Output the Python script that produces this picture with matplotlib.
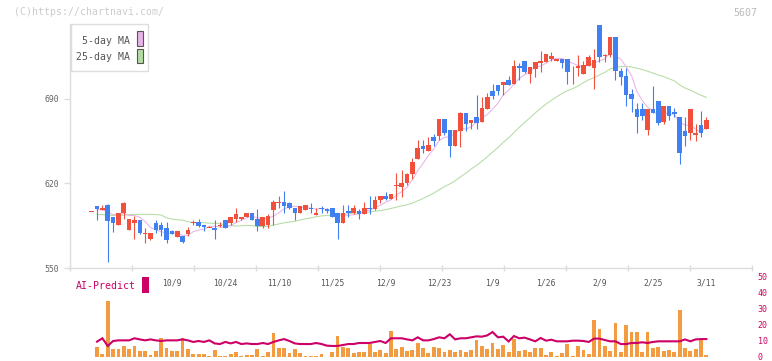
import matplotlib
matplotlib.use("Agg")
import matplotlib.pyplot as plt
import numpy as np
import pandas as pd
from matplotlib.patches import Rectangle

# ---------------- data ----------------
date_labels = ["10/9", "10/24", "11/10", "11/25", "12/9", "12/23",
               "1/9", "1/26", "2/9", "2/25", "3/11"]
date_label_idx = [15, 25, 35, 45, 55, 65, 75, 85, 95, 105, 115]

opens = [597, 601, 598, 602, 592, 586, 596, 582, 587, 590,
         579, 574, 587, 586, 583, 581, 576, 577, 578, 587,
         588, 586, 584, 583, 585, 590, 587, 591, 591, 592,
         596, 591, 585, 586, 598, 604, 605, 604, 600, 596,
         598, 600, 594, 600, 599, 600, 596, 587, 597, 596,
         597, 595, 600, 599, 606, 610, 607, 618, 617, 620,
         628, 640, 651, 647, 658, 659, 673, 664, 651, 663,
         678, 670, 675, 671, 681, 696, 701, 701, 705, 702,
         717, 721, 710, 714, 719, 720, 723, 721, 723, 723,
         716, 715, 710, 717, 715, 751, 725, 726, 741, 713,
         709, 694, 681, 681, 664, 681, 688, 671, 684, 679,
         675, 663, 662, 660, 668, 665]
highs = [597, 601, 602, 603, 592, 596, 605, 591, 593, 590,
         583, 579, 590, 588, 588, 582, 581, 577, 584, 590,
         591, 586, 585, 590, 588, 590, 592, 600, 592, 596,
         596, 599, 592, 595, 606, 610, 614, 605, 600, 601,
         602, 604, 600, 601, 600, 600, 596, 602, 602, 602,
         599, 605, 610, 610, 610, 613, 611, 629, 631, 629,
         641, 656, 656, 658, 661, 673, 673, 664, 664, 679,
         678, 672, 693, 691, 695, 702, 701, 704, 709, 722,
         719, 721, 716, 720, 729, 727, 728, 723, 723, 723,
         717, 726, 721, 726, 731, 751, 727, 741, 741, 715,
         715, 698, 686, 686, 681, 700, 688, 684, 684, 682,
         675, 675, 681, 669, 680, 675]
lows = [597, 590, 598, 555, 580, 586, 591, 582, 574, 578,
        571, 573, 579, 577, 571, 578, 576, 571, 577, 586,
        584, 581, 584, 574, 584, 583, 586, 588, 590, 592,
        590, 581, 583, 583, 586, 600, 596, 599, 590, 596,
        598, 596, 594, 596, 596, 592, 574, 587, 592, 595,
        591, 595, 595, 598, 604, 606, 607, 606, 609, 619,
        624, 640, 645, 647, 651, 656, 660, 642, 651, 650,
        663, 665, 665, 671, 681, 690, 693, 693, 701, 702,
        705, 711, 703, 708, 712, 720, 721, 721, 715, 702,
        702, 709, 710, 717, 698, 720, 720, 724, 705, 701,
        684, 679, 662, 672, 660, 678, 668, 669, 672, 675,
        636, 651, 656, 655, 658, 665]
closes = [597, 599, 600, 589, 587, 596, 604, 591, 590, 579,
          579, 579, 582, 582, 573, 578, 581, 572, 582, 588,
          585, 584, 584, 582, 586, 583, 592, 595, 592, 596,
          590, 585, 592, 593, 605, 604, 601, 600, 596, 601,
          602, 599, 596, 599, 597, 592, 587, 596, 596, 600,
          595, 600, 599, 606, 610, 607, 611, 618, 620, 628,
          638, 649, 648, 652, 655, 673, 662, 651, 664, 678,
          669, 672, 670, 682, 691, 692, 696, 704, 701, 717,
          715, 712, 716, 720, 721, 727, 725, 723, 719, 712,
          716, 717, 718, 724, 722, 724, 726, 741, 713, 708,
          693, 690, 675, 676, 681, 678, 670, 684, 676, 677,
          645, 659, 681, 662, 662, 672]

# 25-day MA values for the first candles
# (the chart's average already includes history before the first candle)
ma25_early = [np.nan, 594.5, 594.3, 593.6, 593.6, 593.6, 593.9, 594.3,
              594.5, 594.5, 594.5, 594.5, 594.3, 593.9, 591.7, 590.6,
              590.0, 589.8, 588.4, 587.6, 587.6, 587.6, 587.3, 587.1,
              587.1]

bar_values = [0, 6, 2, 35, 5, 5, 7, 5, 7, 4,
              4, 1, 4, 12, 5.5, 4, 4, 12, 5, 2,
              2, 2, 0.6, 4.4, 0.6, 0.6, 2, 3, 0.6, 1.2,
              1.2, 5, 0.6, 3, 15, 5.6, 5.6, 2.5, 5, 2.5,
              0.6, 0.6, 0.6, 2, 0.3, 3, 13, 6.2, 5.6, 2.5,
              3, 3, 8, 3, 4.4, 2.5, 16.2, 5, 6.2, 3.8,
              4.4, 8.8, 5.6, 2.5, 6.2, 5.6, 3, 4.4, 3, 4.4,
              3, 4.4, 10.6, 6.9, 5, 8.8, 5, 7.2, 3.1, 11.2,
              3.8, 4.4, 3.1, 5.6, 5.6, 1.2, 3.1, 0.6, 2.5, 8,
              0.6, 7, 4.4, 1.9, 23, 17.5, 7, 3.8, 21.2, 3,
              20, 15.6, 15.6, 3, 15.6, 5.6, 6.2, 3.8, 4.4, 3,
              29.4, 5.6, 3.8, 5, 11.2, 1.2]

ai_predict = [np.nan, 9.6, 11.7, 6.9, 10, 10.4, 10.4, 10.4, 11.7, 11,
              10.4, 11, 10.4, 10, 10.4, 10.4, 10.4, 11, 10.4, 9.4,
              10, 9.4, 10.4, 8.5, 8.1, 9.4, 8.5, 9.4, 8.1, 8.5,
              8.1, 8.1, 8.75, 8.1, 9.4, 10.4, 11.2, 10, 8.5, 8.1,
              8.1, 8.1, 8.75, 8.1, 7.1, 6.9, 6.9, 7.5, 8.1, 8.1,
              8.75, 8.75, 8.75, 9.4, 10, 8.75, 11.7, 11.7, 11.7, 11,
              10.4, 12.3, 10.4, 10.4, 11.2, 12.3, 11.7, 14.2, 11, 11.7,
              11.7, 12.3, 12.9, 12.7, 13.5, 15.6, 12.3, 12.7, 9.7, 13.1,
              11.7, 12.1, 11, 9.8, 11.9, 10.2, 10.8, 9.8, 9.8, 9.8,
              10.2, 10.2, 10, 9.4, 11.5, 11.5, 10.6, 9.8, 9.8, 8.1,
              8.1, 8.75, 8.75, 9.2, 8.75, 9.4, 9.8, 9.8, 9.8, 9.8,
              9.8, 11, 9.8, 11, 11.2, 11.2]

price_ticks = [550, 620, 690]
pred_ticks = [0, 10, 20, 30, 40, 50]

# ---------------- styling ----------------
UP = "#f0503c"
DOWN = "#4080f0"
MA5_C = "#e8b4e8"
MA25_C = "#b4dca4"
MAG = "#cc0066"
ORANGE = "#f39b40"
AXC = "#dddddd"
MONO = "DejaVu Sans Mono"

W, H = 772, 361
fig = plt.figure(figsize=(W / 100, H / 100), dpi=100)
fig.patch.set_facecolor("white")


def fx(px):
    return px / W


def fy(py):
    return 1 - py / H


XMIN, XMAX = -4.06, 123.54
n = len(closes)
idx = np.arange(n)

# ---------------- main price axes ----------------
ax = fig.add_axes([fx(70), fy(268.3), (752 - 70) / W, (268.3 - 24) / H])
ax.set_xlim(XMIN, XMAX)
ax.set_ylim(550, 751.5)

close_s = pd.Series(closes, dtype=float)
ma5 = close_s.rolling(5, min_periods=1).mean().to_numpy()
ma25 = close_s.rolling(25).mean().to_numpy()
ma25[:len(ma25_early)] = ma25_early
ax.plot(idx[1:], ma25[1:], color=MA25_C, lw=0.75, zorder=1)
ax.plot(idx[1:], ma5[1:], color=MA5_C, lw=0.75, zorder=1)

for i in range(n):
    o, h, l, c = opens[i], highs[i], lows[i], closes[i]
    col = UP if c >= o else DOWN
    ax.vlines(i, min(l, o, c), max(h, o, c), color=col, lw=0.8, zorder=2)
    body = abs(c - o)
    bottom = min(o, c)
    if body < 0.7:
        bottom = (o + c) / 2 - 0.35
        body = 0.7
    ax.bar(i, body, bottom=bottom, width=0.86, color=col, zorder=3,
           linewidth=0, clip_on=False)

for s in ["top", "right"]:
    ax.spines[s].set_visible(False)
for s in ["left", "bottom"]:
    ax.spines[s].set_color(AXC)
    ax.spines[s].set_linewidth(1.0)

ax.set_yticks(price_ticks)
ax.set_yticklabels([str(t) for t in price_ticks], fontfamily=MONO,
                   fontsize=5.9, color="#666666")
ax.tick_params(axis="y", length=4, width=1, color=AXC, pad=4)

ax.set_xticks(date_label_idx)
ax.set_xticklabels(date_labels, fontfamily=MONO, fontsize=5.8, color="#555555")
ax.tick_params(axis="x", which="major", length=0, pad=7.5)
ax.set_xticks([XMIN + k * (XMAX - XMIN) / 11 for k in range(12)], minor=True)
ax.tick_params(axis="x", which="minor", length=4, width=1, color=AXC,
               direction="inout")

# ---------------- prediction panel ----------------
ax2 = fig.add_axes([fx(70), fy(357), (752 - 70) / W, (357 - 277) / H])
ax2.set_xlim(XMIN, XMAX)
ax2.set_ylim(0, 50)
ax2.bar(idx, bar_values, width=0.72, color=ORANGE, linewidth=0, zorder=1)
ax2.plot(idx, ai_predict, color=MAG, lw=1.5, zorder=2,
         solid_joinstyle="miter")
for s in ax2.spines.values():
    s.set_visible(False)
ax2.set_xticks([])
ax2.yaxis.tick_right()
ax2.set_yticks(pred_ticks)
ax2.set_yticklabels([str(t) for t in pred_ticks], fontfamily=MONO,
                    fontsize=6, color=MAG)
ax2.tick_params(axis="y", length=0, pad=4)
ax2.patch.set_alpha(0)

# ---------------- decorations ----------------
fig.text(fx(14), fy(12.3), "(C)https://chartnavi.com/", fontfamily=MONO,
         fontsize=7.1, color="#cccccc", ha="left", va="center")
fig.text(fx(757.5), fy(12.7), "5607", fontfamily=MONO,
         fontsize=7.1, color="#bbbbbb", ha="right", va="center")

fig.patches.append(Rectangle((fx(70.7), fy(71)), (148 - 70.7) / W, (71 - 24) / H,
                             transform=fig.transFigure, facecolor="white",
                             edgecolor=AXC, lw=1, zorder=5))
fig.text(fx(129.5), fy(41), "5-day MA", fontfamily=MONO, fontsize=7.1,
         color="#555555", ha="right", va="center", zorder=6)
fig.text(fx(129.5), fy(57), "25-day MA", fontfamily=MONO, fontsize=7.1,
         color="#555555", ha="right", va="center", zorder=6)
fig.patches.append(Rectangle((fx(136.7), fy(46)), 6 / W, 15 / H,
                             transform=fig.transFigure, facecolor=MA5_C,
                             edgecolor="#555555", lw=0.8, zorder=6))
fig.patches.append(Rectangle((fx(136.7), fy(63)), 6 / W, 14 / H,
                             transform=fig.transFigure, facecolor=MA25_C,
                             edgecolor="#555555", lw=0.8, zorder=6))

fig.text(fx(76), fy(286), "AI-Predict", fontfamily=MONO, fontsize=7.1,
         color=MAG, ha="left", va="center")
fig.patches.append(Rectangle((fx(142.3), fy(292.7)), 6.4 / W, 15.4 / H,
                             transform=fig.transFigure, facecolor=MAG,
                             edgecolor="none", zorder=6))

fig.savefig("out.png", dpi=100)
